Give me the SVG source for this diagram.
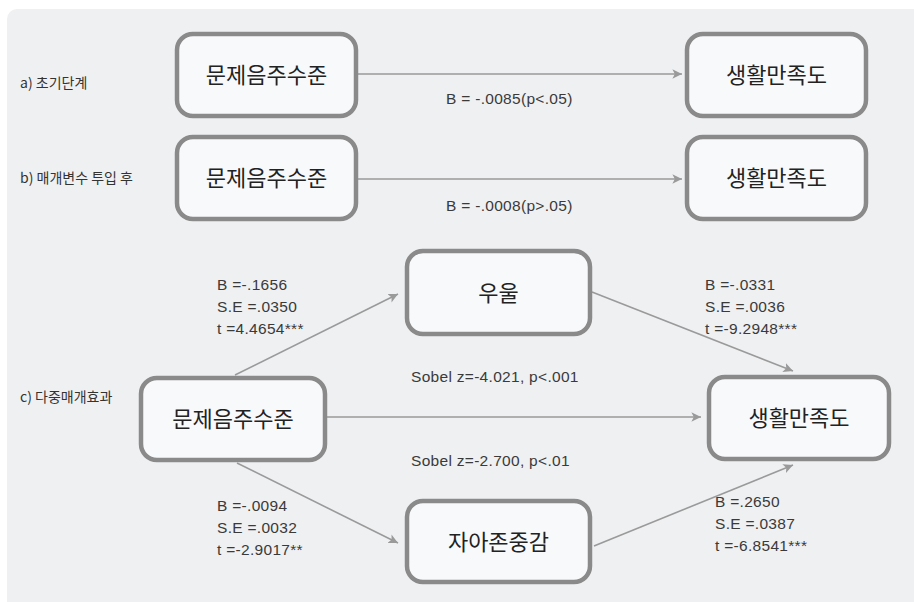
<svg xmlns="http://www.w3.org/2000/svg" width="914" height="602" viewBox="0 0 914 602">
<defs>
<style>
.box{fill:#f8f9fb;stroke:#8a8a8a;stroke-width:4.5}
.nt{font-family:"Noto Sans CJK KR","Noto Sans",sans-serif;font-size:22px;fill:#222;text-anchor:middle}
.lb{font-family:"Liberation Sans","Noto Sans CJK KR",sans-serif;font-size:15.5px;letter-spacing:0.3px;fill:#3a3a3a}
.sd{font-family:"Noto Sans CJK KR","Liberation Sans",sans-serif;font-size:14px;fill:#333}
.cn{stroke:#9a9a9a;stroke-width:1.6;fill:none;marker-end:url(#ah)}
</style>
<marker id="ah" viewBox="0 0 10 10" refX="10" refY="5" markerWidth="6" markerHeight="6" markerUnits="strokeWidth" orient="auto">
<path d="M0,0 L10,5 L0,10 L2.5,5 Z" fill="#9a9a9a"/>
</marker>
</defs>
<rect x="0" y="0" width="914" height="602" fill="#ffffff"/>
<rect x="7" y="9" width="920" height="610" rx="10" fill="#eff0f2"/>

<g id="connectors">
<path class="cn" d="M358,74 L682,74"/>
<path class="cn" d="M358,179 L682,179"/>
<path class="cn" d="M235,375 L398,294"/>
<path class="cn" d="M592,292 L793,371"/>
<path class="cn" d="M327,417 L701,417"/>
<path class="cn" d="M237,463 L398,543"/>
<path class="cn" d="M594,546 L793,465"/>
</g>

<g id="side-labels">
<text class="sd" x="20" y="88">a) 초기단계</text>
<text class="sd" x="20" y="183">b) 매개변수 투입 후</text>
<text class="sd" x="20" y="402">c) 다중매개효과</text>
</g>

<g id="edge-labels">
<text class="lb" x="446" y="104">B = -.0085(p&lt;.05)</text>
<text class="lb" x="446" y="211">B = -.0008(p&gt;.05)</text>
<text class="lb" x="217" y="290">B =-.1656</text>
<text class="lb" x="217" y="312">S.E =.0350</text>
<text class="lb" x="217" y="334">t =4.4654***</text>
<text class="lb" x="705" y="290">B =-.0331</text>
<text class="lb" x="705" y="312">S.E =.0036</text>
<text class="lb" x="705" y="334">t =-9.2948***</text>
<text class="lb" x="411" y="382">Sobel z=-4.021, p&lt;.001</text>
<text class="lb" x="411" y="466">Sobel z=-2.700, p&lt;.01</text>
<text class="lb" x="217" y="511">B =-.0094</text>
<text class="lb" x="217" y="533">S.E =.0032</text>
<text class="lb" x="217" y="555">t =-2.9017**</text>
<text class="lb" x="715" y="507">B =.2650</text>
<text class="lb" x="715" y="529">S.E =.0387</text>
<text class="lb" x="715" y="551">t =-6.8541***</text>
</g>

<g id="node-a1"><rect class="box" x="177" y="34" width="179" height="82" rx="16"/><text class="nt" x="266.5" y="83">문제음주수준</text></g>
<g id="node-a2"><rect class="box" x="687" y="34" width="179" height="82" rx="16"/><text class="nt" x="776.5" y="83">생활만족도</text></g>
<g id="node-b1"><rect class="box" x="177" y="137" width="179" height="82" rx="16"/><text class="nt" x="266.5" y="186">문제음주수준</text></g>
<g id="node-b2"><rect class="box" x="687" y="137" width="179" height="82" rx="16"/><text class="nt" x="776.5" y="186">생활만족도</text></g>
<g id="node-c-depress"><rect class="box" x="407" y="251" width="183" height="83" rx="16"/><text class="nt" x="498.5" y="301">우울</text></g>
<g id="node-c-drink"><rect class="box" x="141" y="378" width="184" height="82" rx="16"/><text class="nt" x="233" y="427">문제음주수준</text></g>
<g id="node-c-esteem"><rect class="box" x="407" y="501" width="183" height="81" rx="16"/><text class="nt" x="498.5" y="550">자아존중감</text></g>
<g id="node-c-life"><rect class="box" x="709" y="377" width="180" height="82" rx="16"/><text class="nt" x="799" y="426">생활만족도</text></g>
</svg>
